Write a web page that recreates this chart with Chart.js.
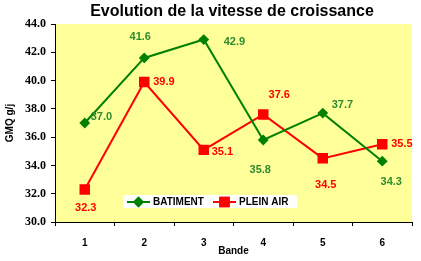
<!DOCTYPE html>
<html>
<head>
<meta charset="utf-8">
<script src="https://cdn.jsdelivr.net/npm/chart.js@4/dist/chart.umd.min.js"></script>
<style>
  html, body { margin: 0; padding: 0; background: #ffffff; }
  #wrap { width: 421px; height: 261px; }
</style>
</head>
<body>
<div id="wrap"><canvas id="c" width="421" height="261"></canvas></div>
<script>
const chartTitle = "Evolution de la vitesse de croissance";
const categories = ["1", "2", "3", "4", "5", "6"];
const batiment = [37.0, 41.6, 42.9, 35.8, 37.7, 34.3];
const pleinAir = [32.3, 39.9, 35.1, 37.6, 34.5, 35.5];
const seriesNames = ["BATIMENT", "PLEIN AIR"];
const yTitle = "GMQ g/j";
const xTitle = "Bande";

// label placement (style): [dx, dy, align]
const labelPlacement = [
  [[6, -6, 'left'], [-4, -21, 'center'], [20, 2, 'left'], [-3, 30, 'center'], [9, -8, 'left'], [9, 21, 'center']],
  [[1, 18, 'center'], [9, 0, 'left'], [8, 2, 'left'], [16, -20, 'center'], [3, 27, 'center'], [9, 0, 'left']]
];
const labelColors = ['#2E8B2E', '#FF0000'];

const plotBg = {
  id: 'plotBg',
  beforeDraw(chart) {
    const {ctx, chartArea: a} = chart;
    ctx.save();
    ctx.fillStyle = '#FFFF99';
    ctx.fillRect(a.left, a.top, a.right - a.left, a.bottom - a.top);
    ctx.restore();
  }
};

const extras = {
  id: 'extras',
  afterDatasetsDraw(chart) {
    const ctx = chart.ctx;
    ctx.save();
    // data labels
    ctx.font = 'bold 11px "Liberation Sans", Arial, sans-serif';
    ctx.textBaseline = 'middle';
    chart.data.datasets.forEach((ds, di) => {
      const meta = chart.getDatasetMeta(di);
      meta.data.forEach((pt, i) => {
        const p = labelPlacement[di][i];
        ctx.fillStyle = labelColors[di];
        ctx.textAlign = p[2];
        ctx.fillText(ds.data[i].toFixed(1), pt.x + p[0], pt.y + p[1]);
      });
    });
    // legend box inside plot
    const a = chart.chartArea;
    const lx = 123, ly = 195, lw = 174, lh = 13;
    ctx.fillStyle = '#ffffff';
    ctx.fillRect(lx, ly, lw, lh);
    const cy = ly + lh / 2 + 0.5;
    ctx.font = 'bold 10px "Liberation Sans", Arial, sans-serif';
    ctx.textAlign = 'left';
    const starts = [127, 213];
    chart.data.datasets.forEach((ds, di) => {
      const sx = starts[di];
      ctx.strokeStyle = ds.borderColor;
      ctx.lineWidth = 2;
      ctx.beginPath();
      ctx.moveTo(sx, cy);
      ctx.lineTo(sx + 23, cy);
      ctx.stroke();
      Chart.helpers.drawPoint(ctx, {
        pointStyle: ds.pointStyle, radius: ds.pointRadius, borderWidth: 1, rotation: 0
      }, sx + 11.5, cy);
      ctx.fillStyle = ds.pointBackgroundColor;
      ctx.strokeStyle = ds.pointBorderColor;
      ctx.fill();
      ctx.stroke();
      ctx.fillStyle = '#000000';
      ctx.fillText(ds.label, sx + 26, cy);
    });
    // title
    ctx.font = 'bold 16px "Liberation Sans", Arial, sans-serif';
    ctx.textAlign = 'center';
    ctx.fillStyle = '#000000';
    ctx.fillText(chartTitle, 232, 12);
    ctx.restore();
  }
};

new Chart(document.getElementById('c'), {
  type: 'line',
  data: {
    labels: categories,
    datasets: [
      {
        label: seriesNames[0], data: batiment,
        borderColor: '#008000', backgroundColor: '#008000',
        pointBackgroundColor: '#008000', pointBorderColor: '#008000',
        pointStyle: 'rectRot', pointRadius: 4, borderWidth: 2, tension: 0
      },
      {
        label: seriesNames[1], data: pleinAir,
        borderColor: '#FF0000', backgroundColor: '#FF0000',
        pointBackgroundColor: '#FF0000', pointBorderColor: '#FF0000',
        pointStyle: 'rect', pointRadius: 6, borderWidth: 2, tension: 0
      }
    ]
  },
  options: {
    responsive: false,
    animation: false,
    devicePixelRatio: 1,
    layout: { padding: { top: 24, right: 9, left: 0, bottom: 0 } },
    plugins: { legend: { display: false }, title: { display: false }, tooltip: { enabled: false } },
    scales: {
      x: {
        offset: true,
        grid: { display: true, offset: true, drawOnChartArea: false, drawTicks: true, tickLength: 4, color: '#000000' },
        border: { display: true, color: '#000000', width: 1 },
        ticks: { color: '#000000', padding: 11, font: { family: '"Liberation Sans", Arial, sans-serif', size: 10, weight: 'bold' } },
        title: { display: true, text: xTitle, color: '#000000', padding: { top: 0, bottom: 4 },
                 font: { family: '"Liberation Sans", Arial, sans-serif', size: 10, weight: 'bold' } },
        afterFit(s) { s.height = 39; }
      },
      y: {
        min: 30, max: 44,
        ticks: { stepSize: 2, color: '#000000', padding: 5,
                 callback: v => Number(v).toFixed(1),
                 font: { family: '"Liberation Serif", "Times New Roman", serif', size: 12, weight: 'bold' } },
        grid: { display: true, drawOnChartArea: false, drawTicks: true, tickLength: 4, color: '#000000' },
        border: { display: true, color: '#000000', width: 1 },
        title: { display: true, text: yTitle, color: '#000000', padding: { top: 4, bottom: 0 },
                 font: { family: '"Liberation Sans", Arial, sans-serif', size: 10, weight: 'bold' } },
        afterFit(s) { s.width = 55; }
      }
    }
  },
  plugins: [plotBg, extras]
});
</script>
</body>
</html>
